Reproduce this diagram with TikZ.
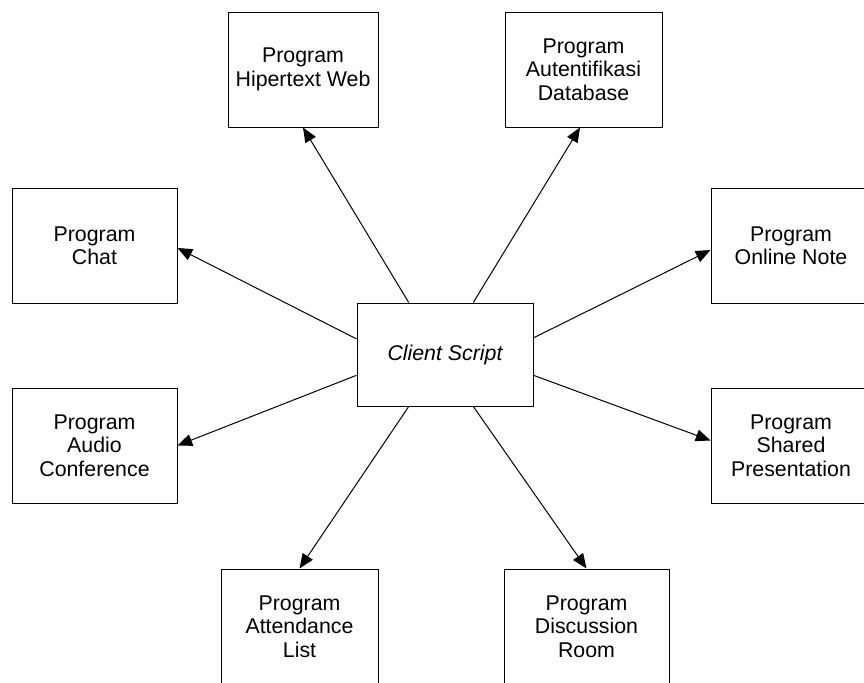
\documentclass[tikz,border=0pt]{standalone}
\usepackage{fontspec}
\setmainfont{Liberation Sans}
\usetikzlibrary{arrows.meta,calc}
\begin{document}
\begin{tikzpicture}[x=0.75pt,y=-0.75pt,
  prog/.style={draw=black, line width=0.75pt, inner sep=0pt, align=center,
    minimum height=86.25pt, font=\fontsize{16}{17.6}\selectfont},
  link/.style={draw=black, line width=0.75pt, -{Triangle[length=11pt,width=9pt]}}]
\useasboundingbox (0,0) rectangle (864,682);
\clip (0,0) rectangle (864,682);
\fill[white] (0,0) rectangle (864,682);
\node[prog, minimum width=132pt, minimum height=77.25pt] (cs) at (445,354.5) {\itshape Client Script};
\node[prog, minimum width=112.5pt] (hip) at (303,69.5) {Program\\Hipertext Web};
\node[prog, minimum width=117.75pt] (aut) at (583.5,69.5) {Program\\Autentifikasi\\Database};
\node[prog, minimum width=123.75pt] (chat) at (94.5,245.5) {Program\\Chat};
\node[prog, minimum width=123.75pt] (audio) at (94.5,445.5) {Program\\Audio\\Conference};
\node[prog, minimum width=120pt] (online) at (791,245.5) {Program\\Online Note};
\node[prog, minimum width=120pt] (shared) at (791,445.5) {Program\\Shared\\Presentation};
\node[prog, minimum width=117.75pt] (att) at (299.5,626.5) {Program\\Attendance\\List};
\node[prog, minimum width=123.75pt] (disc) at (586.5,626.5) {Program\\Discussion\\Room};
\draw[link] ($(cs.north west)!0.295!(cs.north east)$) -- (hip.south);
\draw[link] ($(cs.north west)!0.66!(cs.north east)$) -- ($(aut.south)+(-3.5,0)$);
\draw[link] ($(cs.north west)!0.35!(cs.south west)$) -- ($(chat.east)+(0,2.5)$);
\draw[link] ($(cs.north west)!0.70!(cs.south west)$) -- (audio.east);
\draw[link] ($(cs.north east)!0.34!(cs.south east)$) -- ($(online.west)+(0,4.5)$);
\draw[link] ($(cs.north east)!0.70!(cs.south east)$) -- ($(shared.west)+(0,-5)$);
\draw[link] ($(cs.south west)!0.295!(cs.south east)$) -- (att.north);
\draw[link] ($(cs.south west)!0.66!(cs.south east)$) -- (disc.north);
\end{tikzpicture}
\end{document}
